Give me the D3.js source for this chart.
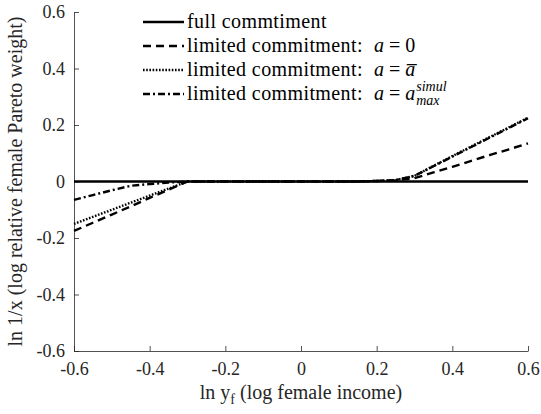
<!DOCTYPE html>
<html>
<head>
<meta charset="utf-8">
<script src="https://cdn.jsdelivr.net/npm/d3@7"></script>
<style>
  html, body { margin: 0; padding: 0; background: #fff; }
  svg { display: block; }
</style>
</head>
<body>
<svg id="chart" width="541" height="414"></svg>
<script>
// Log female income grid
const incomeGrid = [-0.6, -0.55, -0.5, -0.45, -0.4, -0.35, -0.3, -0.25, -0.2, -0.15, -0.1, -0.05,
  0, 0.05, 0.1, 0.15, 0.2, 0.25, 0.3, 0.35, 0.4, 0.45, 0.5, 0.55, 0.6];

// Log relative female Pareto weight under each regime
const fullCommitment = [0, 0, 0, 0, 0, 0, 0, 0, 0, 0, 0, 0, 0, 0, 0, 0, 0, 0, 0, 0, 0, 0, 0, 0, 0];
const limitedA0 = [-0.175, -0.146, -0.117, -0.088, -0.058, -0.029, 0, 0, 0, 0, 0, 0,
  0, 0, 0, 0, 0.002, 0.004, 0.012, 0.032, 0.052, 0.073, 0.094, 0.114, 0.135];
const limitedABar = [-0.15, -0.125, -0.1, -0.075, -0.05, -0.025, 0, 0, 0, 0, 0, 0,
  0, 0, 0, 0, 0.002, 0.005, 0.02, 0.055, 0.09, 0.124, 0.158, 0.192, 0.226];
const limitedAMax = [-0.065, -0.048, -0.031, -0.015, -0.009, -0.004, 0, 0, 0, 0, 0, 0,
  0, 0, 0, 0, 0.002, 0.005, 0.02, 0.054, 0.088, 0.122, 0.156, 0.19, 0.224];

const xTicks = [-0.6, -0.4, -0.2, 0, 0.2, 0.4, 0.6];
const yTicks = [-0.6, -0.4, -0.2, 0, 0.2, 0.4, 0.6];

const series = [
  { values: fullCommitment, dash: null },
  { values: limitedA0, dash: "8,5" },
  { values: limitedABar, dash: "1.6,1.6" },
  { values: limitedAMax, dash: "7,3,2,3" }
];

const svg = d3.select("#chart");
const margin = { left: 74, right: 13, top: 12, bottom: 63 };
const W = 541, H = 414;
const serif = "Liberation Serif";

const x = d3.scaleLinear().domain([-0.6, 0.6]).range([margin.left, W - margin.right]);
const y = d3.scaleLinear().domain([-0.6, 0.6]).range([H - margin.bottom, margin.top]);

// Plain hyphen for negatives
const fmt = d => (d === 0 ? "0" : (d < 0 ? "-" : "") + Math.abs(d).toFixed(1));

// Axes with inward ticks
const xAxis = svg.append("g")
  .attr("transform", `translate(0,${y(-0.6)})`)
  .call(d3.axisBottom(x).tickValues(xTicks).tickSizeInner(-5).tickSizeOuter(0).tickPadding(11).tickFormat(fmt));
const yAxis = svg.append("g")
  .attr("transform", `translate(${x(-0.6)},0)`)
  .call(d3.axisLeft(y).tickValues(yTicks).tickSizeInner(-5).tickSizeOuter(0).tickPadding(9).tickFormat(fmt));

[xAxis, yAxis].forEach(g => {
  g.select(".domain").attr("stroke", "#262626").attr("stroke-width", 0.8);
  g.selectAll(".tick line").attr("stroke", "#262626").attr("stroke-width", 0.8);
  g.selectAll(".tick text")
    .attr("fill", "#262626")
    .style("font-family", serif)
    .style("font-size", "18px");
});

// Curves
const line = d3.line()
  .x((d, i) => x(incomeGrid[i]))
  .y(d => y(d));

svg.append("g").selectAll("path")
  .data(series)
  .join("path")
  .attr("d", s => line(s.values))
  .attr("fill", "none")
  .attr("stroke", "#000")
  .attr("stroke-width", 2.4)
  .attr("stroke-dasharray", s => s.dash);

// Legend
const legend = svg.append("g").attr("transform", "translate(143,0)");
const rowY = [22, 46, 70, 94];
series.forEach((s, i) => {
  legend.append("line")
    .attr("x1", 0).attr("x2", 41)
    .attr("y1", rowY[i]).attr("y2", rowY[i])
    .attr("stroke", "#000")
    .attr("stroke-width", 2.4)
    .attr("stroke-dasharray", s.dash);
});
const word = (i, str) => legend.append("text")
  .style("font-family", serif)
  .style("font-size", "20px")
  .style("letter-spacing", "0.4px")
  .attr("x", 44).attr("y", rowY[i] + 6)
  .text(str);

word(0, "full commtiment");

// "limited commitment:" rows followed by the equation for a
const eqs = ["0", "abar", "amax"];
eqs.forEach((rhs, k) => {
  const i = k + 1;
  const t = word(i, "limited commitment:");
  const ax = 44 + t.node().getComputedTextLength() + 11;
  const tx = legend.append("text")
    .style("font-family", serif).style("font-size", "20px")
    .attr("x", ax).attr("y", rowY[i] + 6);
  tx.append("tspan").style("font-style", "italic").text("a");
  tx.append("tspan").text("\u00A0=\u00A0");
  if (rhs === "0") {
    tx.append("tspan").text("0");
  } else if (rhs === "abar") {
    tx.append("tspan").style("font-style", "italic").text("a\u0305");
  } else {
    tx.append("tspan").style("font-style", "italic").text("a");
    const sx = ax + tx.node().getComputedTextLength() + 1;
    legend.append("text")
      .style("font-family", serif).style("font-size", "14px").style("font-style", "italic")
      .attr("x", sx).attr("y", rowY[i] - 3)
      .text("simul");
    legend.append("text")
      .style("font-family", serif).style("font-size", "14px").style("font-style", "italic")
      .attr("x", sx).attr("y", rowY[i] + 11)
      .text("max");
  }
});

// Axis titles
const xt = svg.append("text")
  .attr("x", x(0)).attr("y", 399)
  .attr("text-anchor", "middle")
  .style("font-family", serif)
  .style("font-size", "20px")
  .attr("fill", "#262626");
xt.append("tspan").text("ln y");
xt.append("tspan").attr("dy", 5).style("font-size", "14px").text("f");
xt.append("tspan").attr("dy", -5).text(" (log female income)");

svg.append("text")
  .attr("transform", `translate(22,${y(0)}) rotate(-90)`)
  .attr("text-anchor", "middle")
  .style("font-family", serif)
  .style("font-size", "20px")
  .attr("fill", "#262626")
  .text("ln 1/x (log relative female Pareto weight)");
</script>
</body>
</html>
